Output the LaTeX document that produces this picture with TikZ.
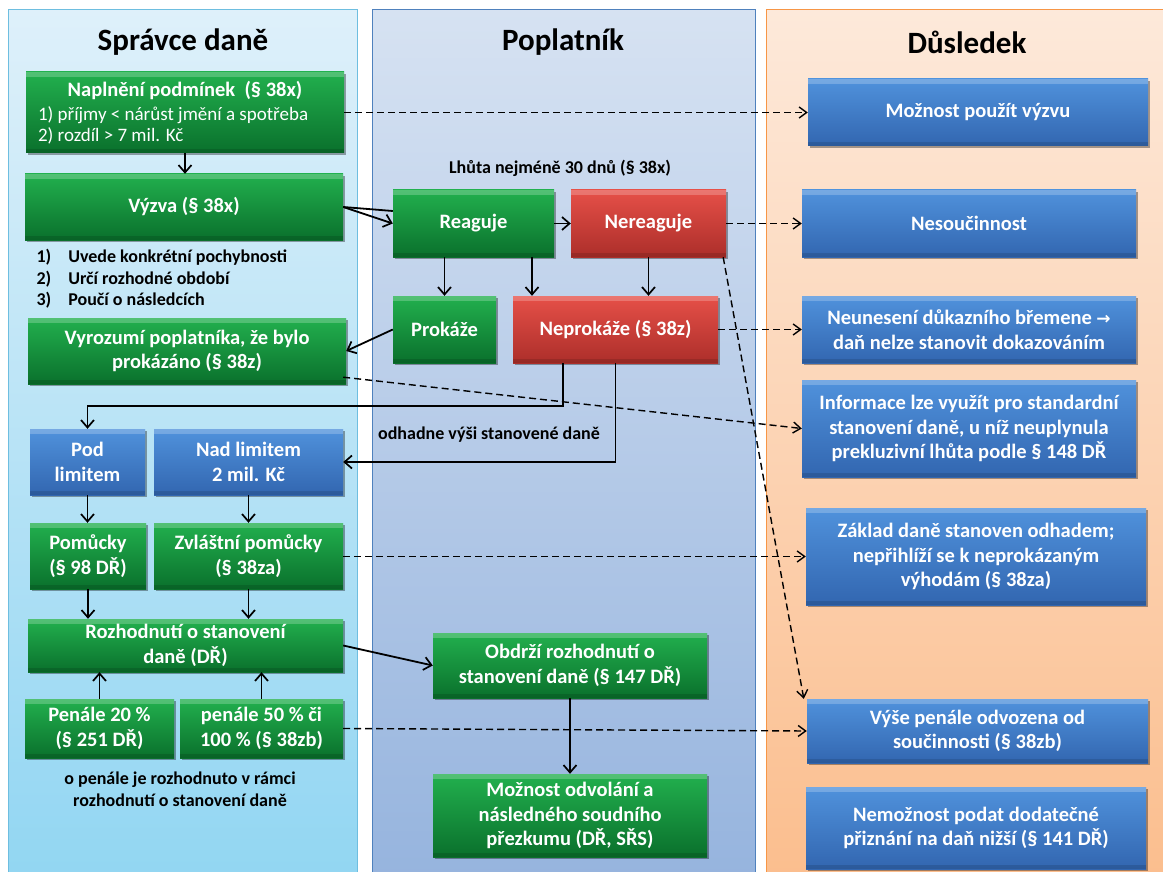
\documentclass[tikz,border=0pt]{standalone}
\usepackage{fontspec}
\setmainfont{Carlito}
\newfontfamily\djv{DejaVu Sans}
\usetikzlibrary{arrows.meta,shadows,calc}
\definecolor{g1}{RGB}{34,176,78}
\definecolor{g2}{RGB}{10,112,44}
\definecolor{r1}{RGB}{230,80,72}
\definecolor{r2}{RGB}{172,46,42}
\definecolor{b1}{RGB}{80,146,220}
\definecolor{b2}{RGB}{50,102,176}
\definecolor{pl1}{RGB}{222,240,250}
\definecolor{pl2}{RGB}{146,214,242}
\definecolor{plb}{RGB}{110,190,224}
\definecolor{pm1}{RGB}{214,226,242}
\definecolor{pm2}{RGB}{150,180,222}
\definecolor{pmb}{RGB}{79,129,189}
\definecolor{pr1}{RGB}{253,233,218}
\definecolor{pr2}{RGB}{251,190,142}
\definecolor{prb}{RGB}{247,150,70}
\begin{document}
\begin{tikzpicture}[x=1pt,y=-1pt,
  rect/.style n args={4}{at={({(#1+#3)/2},{(#2+#4)/2})},
     minimum width={(#3)-(#1)}, minimum height={(#4)-(#2)}},
  box/.style={inner sep=1pt, align=center, text=white,
     font=\fontsize{20.5}{24.5}\selectfont\bfseries,
     drop shadow={shadow xshift=1.5pt, shadow yshift=-1.8pt, opacity=0.35, fill=black},
     path picture={\fill[white,opacity=0.22] (path picture bounding box.north west) rectangle ([yshift=-5pt]path picture bounding box.north east);
                   \fill[black,opacity=0.12] (path picture bounding box.south west) rectangle ([yshift=4pt]path picture bounding box.south east);}},
  gbox/.style={box, top color=g1, bottom color=g2},
  rbox/.style={box, top color=r1, bottom color=r2},
  bbox/.style={box, top color=b1, bottom color=b2},
  hdr/.style={font=\fontsize{31}{35}\selectfont\bfseries, text=black},
  lbl/.style={font=\fontsize{18}{21.5}\selectfont\bfseries, text=black, align=center},
  arr/.style={line width=1.8pt, -{Straight Barb[length=7.5pt,width=13pt,line width=1.7pt]}},
  darr/.style={line width=1.4pt, dash pattern=on 7pt off 4pt, -{Straight Barb[length=7.5pt,width=11pt,line width=1.4pt]}},
  pline/.style={line width=1.8pt}
]
\useasboundingbox (0,0) rectangle (1163,872);
\fill[white] (0,0) rectangle (1163,872);
% panels
\path[top color=pl1, bottom color=pl2, draw=plb, line width=1pt] (8,10) rectangle (357,878);
\path[top color=pm1, bottom color=pm2, draw=pmb, line width=1pt] (372,10) rectangle (755,878);
\path[top color=pr1, bottom color=pr2, draw=prb, line width=1pt] (766,10) rectangle (1172,878);
% headers
\node[hdr] (h1) at (183,42) {Správce daně};
\node[hdr] (h2) at (563,42) {Poplatník};
\node[hdr] (h3) at (967,42) {Důsledek};
% left column
\node[gbox, rect={26}{72}{344}{153}] (nap)
  {Naplnění podmínek~~(§ 38x)\\[-1pt]\parbox[t]{294pt}{\raggedright\mdseries\fontsize{19}{21}\selectfont 1) příjmy < nárůst jmění a spotřeba\\2) rozdíl > 7 mil. Kč}};
\node[gbox, rect={25}{174}{343}{240}] (vyz) {Výzva (§ 38x)};
\node[lbl, anchor=north west, align=left] (lst) at (33,244)
  {\begin{tabular}{@{}l@{\hspace{17pt}}l@{}}1) & Uvede konkrétní pochybnosti\\2) & Určí rozhodné období\\3) & Poučí o následcích\end{tabular}};
\node[gbox, rect={28}{318}{346}{384}] (vyr) {Vyrozumí poplatníka, že bylo\\prokázáno (§ 38z)};
\node[bbox, rect={30}{429}{145}{495}] (pod) {Pod\\limitem};
\node[bbox, rect={154}{429}{343}{495}] (nad) {Nad limitem\\2 mil. Kč};
\node[gbox, rect={30}{523}{146}{589}] (pom) {Pomůcky\\(§ 98 DŘ)};
\node[gbox, rect={154}{523}{343}{589}] (zvl) {Zvláštní pomůcky\\(§ 38za)};
\node[gbox, rect={28}{619}{343}{672}] (roz) {Rozhodnutí o stanovení\\daně (DŘ)};
\node[gbox, rect={25}{699}{174}{758}] (pen1) {Penále 20 \%\\(§ 251 DŘ)};
\node[gbox, rect={180}{699}{343}{758}] (pen2) {penále 50 \% či\\100 \% (§ 38zb)};
\node[lbl] (note) at (180,789) {o penále je rozhodnuto v rámci\\rozhodnutí o stanovení daně};
% middle column
\node[lbl] (lhuta) at (560,168) {Lhůta nejméně 30 dnů (§ 38x)};
\node[gbox, rect={393}{190}{554}{257}] (rea) {Reaguje};
\node[rbox, rect={571}{190}{726}{257}] (nere) {Nereaguje};
\node[gbox, rect={393}{296}{496}{363}] (prok) {Prokáže};
\node[rbox, rect={513}{296}{718}{363}] (neprok) {Neprokáže (§ 38z)};
\node[lbl] (odh) at (489,435) {odhadne výši stanovené daně};
\node[gbox, rect={433}{633}{707}{698}] (obd) {Obdrží rozhodnutí o\\stanovení daně (§ 147 DŘ)};
\node[gbox, rect={433}{774}{707}{857}] (mozo) {Možnost odvolání a\\následného soudního\\přezkumu (DŘ, SŘS)};
% right column
\node[bbox, rect={808}{79}{1148}{146}] (mpv) {Možnost použít výzvu};
\node[bbox, rect={802}{190}{1136}{257}] (nes) {Nesoučinnost};
\node[bbox, rect={802}{296}{1136}{363}] (neun) {Neunesení důkazního břemene {\djv\bfseries\fontsize{17}{20}\selectfont →}\\daň nelze stanovit dokazováním};
\node[bbox, rect={802}{380}{1136}{477}] (info) {Informace lze využít pro standardní\\stanovení daně, u níž neuplynula\\prekluzivní lhůta podle § 148 DŘ};
\node[bbox, rect={806}{508}{1146}{605}] (zak) {Základ daně stanoven odhadem;\\nepřihlíží se k neprokázaným\\výhodám (§ 38za)};
\node[bbox, rect={807}{699}{1148}{763}] (vys) {Výše penále odvozena od\\součinnosti (§ 38zb)};
\node[bbox, rect={806}{787}{1146}{869}] (nem) {Nemožnost podat dodatečné\\přiznání na daň nižší (§ 141 DŘ)};
% coordinates
\coordinate (c1) at (87.5,406);
% solid connectors
\draw[arr] (nap.south) -- (nap.south |- vyz.north);
\draw[pline] (vyz.east) -- ([yshift=12.5pt]rea.west);
\draw[arr] (vyz.east) -- (rea.west);
\draw[arr] (rea.east) -- (nere.west);
\draw[arr] (prok.north |- rea.south) -- (prok.north);
\draw[arr] ([xshift=58.5pt]rea.south) -- ([xshift=58.5pt]rea.south |- neprok.north);
\draw[arr] (nere.south) -- (nere.south |- neprok.north);
\draw[arr] (prok.west) -- (vyr.east);
\draw[arr] ([xshift=-52.5pt]neprok.south) |- (c1) -- (pod.north);
\draw[arr] (neprok.south) |- (nad.east);
\draw[arr] (pod.south) -- (pod.south |- pom.north);
\draw[arr] (nad.south) -- (nad.south |- zvl.north);
\draw[arr] (pom.south) -- (pom.south |- roz.north);
\draw[arr] (zvl.south) -- (zvl.south |- roz.north);
\draw[arr] (pen1.north) -- (pen1.north |- roz.south);
\draw[arr] (pen2.north) -- (pen2.north |- roz.south);
\draw[arr] (roz.east) -- (obd.west);
\draw[arr] (obd.south) -- (obd.south |- mozo.north);
% dashed connectors
\draw[darr] (nap.east) -- (mpv.west);
\draw[darr] (nere.east) -- (nes.west);
\draw[darr] (neprok.east) -- (neun.west);
\draw[darr] ([xshift=-3pt,yshift=7pt]vyr.south east) -- (info.west);
\draw[darr] ([yshift=-0.5pt]zvl.east) -- ([yshift=-0.5pt]zvl.east -| zak.west);
\draw[darr] (pen2.east) -- (vys.west);
\draw[darr] ([xshift=-3pt]nere.south east) -- ([xshift=-3pt]vys.north west);
\end{tikzpicture}
\end{document}
